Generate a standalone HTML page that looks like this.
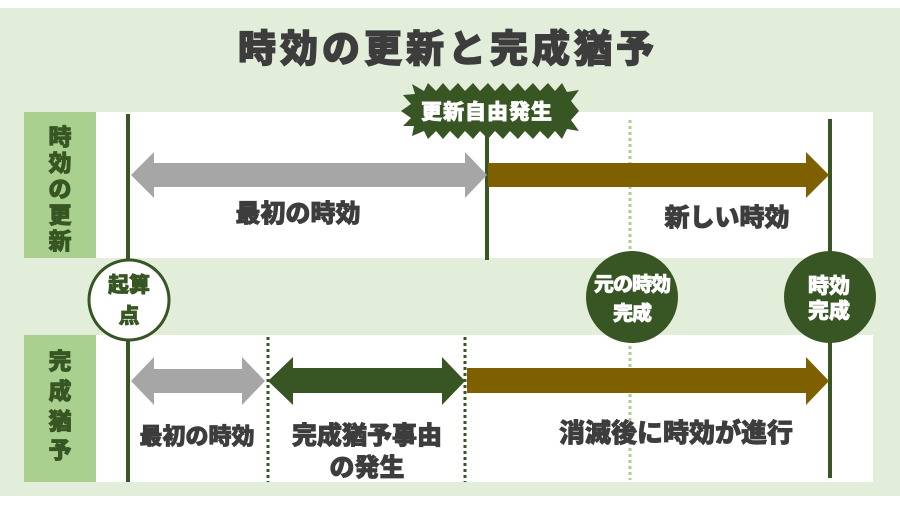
<!DOCTYPE html>
<html><head><meta charset="utf-8"><style>
html,body{margin:0;padding:0;background:#fff;}
svg{display:block;}
text{font-family:"Liberation Sans","Noto Sans CJK JP",sans-serif;font-weight:900;}
</style></head><body>
<svg width="900" height="506" viewBox="0 0 900 506" xmlns="http://www.w3.org/2000/svg">
<rect x="0" y="0" width="900" height="506" fill="#ffffff"/>
<rect x="0" y="8" width="900" height="488" fill="#e2eed9"/>
<!-- title -->
<text x="448" y="62" text-anchor="middle" font-size="38" letter-spacing="4" fill="#3d3d3d" stroke="#3d3d3d" stroke-width="1.2">時効の更新と完成猶予</text>
<!-- bands -->
<rect x="96" y="112" width="777" height="146" fill="#ffffff"/>
<rect x="96" y="335" width="777" height="147" fill="#ffffff"/>
<rect x="24" y="112" width="72" height="146" fill="#a9d08e"/>
<rect x="24" y="335" width="72" height="147" fill="#a9d08e"/>
<!-- left labels -->
<g font-size="23" fill="#375623" stroke="#375623" stroke-width="0.8" text-anchor="middle">
<text x="60" y="145">時</text>
<text x="60" y="171">効</text>
<text x="60" y="197">の</text>
<text x="60" y="223">更</text>
<text x="60" y="249">新</text>
<text x="60" y="369">完</text>
<text x="60" y="399">成</text>
<text x="60" y="429">猶</text>
<text x="60" y="458">予</text>
</g>
<!-- dotted lines -->
<line x1="630" y1="120" x2="630" y2="258" stroke="#a9d08e" stroke-width="3" stroke-dasharray="3,3"/>
<line x1="630" y1="340" x2="630" y2="480" stroke="#a9d08e" stroke-width="3" stroke-dasharray="3,3"/>
<line x1="268" y1="337" x2="268" y2="482" stroke="#375623" stroke-width="3" stroke-dasharray="3,3"/>
<line x1="465" y1="337" x2="465" y2="482" stroke="#375623" stroke-width="3" stroke-dasharray="3,3"/>
<!-- solid vertical lines -->
<line x1="128" y1="114" x2="128" y2="482" stroke="#375623" stroke-width="4"/>
<line x1="487" y1="110" x2="487" y2="260" stroke="#375623" stroke-width="4"/>
<line x1="830" y1="119" x2="830" y2="478" stroke="#375623" stroke-width="4"/>
<!-- top arrows -->
<polygon points="131,175 154,152 154,163 465,163 465,152 487,175 465,198 465,187 154,187 154,198" fill="#a6a6a6"/>
<polygon points="488,163 806,163 806,152 829,175 806,198 806,187 488,187" fill="#7f6000"/>
<!-- bottom arrows -->
<polygon points="131,381 154,357 154,369 242,369 242,357 265,381 242,405 242,393 154,393 154,405" fill="#a6a6a6"/>
<polygon points="268,381 293,357 293,368 442,368 442,357 465,381 442,405 442,393 293,393 293,405" fill="#375623"/>
<polygon points="467,368 806,368 806,357 829,381 806,405 806,393 467,393" fill="#7f6000"/>
<!-- starburst -->
<polygon fill="#375623" points="401,111 411,104 403,95 415,94 412,84 424,91 428,83 436,91 443,83 450,91 458,83 465,91 473,83 480,91 488,83 495,91 503,83 510,91 518,83 525,91 533,83 540,91 548,83 555,91 562,83 567,92 579,90 571,101 579,111 571,120 579,131 567,129 562,139 555,131 548,139 540,131 533,139 525,131 518,139 510,131 503,139 495,131 488,139 480,131 473,139 465,131 458,139 450,131 443,139 436,131 428,139 424,131 412,136 414,126 403,126 411,118"/>
<text x="487" y="119" text-anchor="middle" font-size="21" letter-spacing="1" fill="#ffffff" stroke="#ffffff" stroke-width="0.7">更新自由発生</text>
<!-- circles -->
<circle cx="129" cy="300" r="40" fill="#ffffff" stroke="#375623" stroke-width="3"/>
<g stroke-width="0.7">
<text x="129" y="292" text-anchor="middle" font-size="21" fill="#375623" stroke="#375623">起算</text>
<text x="129" y="323" text-anchor="middle" font-size="21" fill="#375623" stroke="#375623">点</text>
</g>
<circle cx="632" cy="297" r="46" fill="#375623"/>
<g fill="#ffffff" stroke="#ffffff" stroke-width="0.7" text-anchor="middle">
<text x="632" y="291" font-size="20" letter-spacing="-1">元の時効</text>
<text x="632" y="320" font-size="20" letter-spacing="-1">完成</text>
</g>
<circle cx="830" cy="297" r="46" fill="#375623"/>
<g fill="#ffffff" stroke="#ffffff" stroke-width="0.7" text-anchor="middle">
<text x="829" y="293" font-size="21">時効</text>
<text x="829" y="318" font-size="21">完成</text>
</g>
<!-- labels -->
<g fill="#3d3d3d" stroke="#3d3d3d" stroke-width="0.8" text-anchor="middle">
<text x="298" y="222" font-size="25">最初の時効</text>
<text x="727" y="226" font-size="25">新しい時効</text>
<text x="197" y="444" font-size="23">最初の時効</text>
<text x="367" y="444" font-size="25">完成猶予事由</text>
<text x="367" y="476" font-size="25">の発生</text>
<text x="676" y="442" font-size="26">消滅後に時効が進行</text>
</g>
</svg>
</body></html>
